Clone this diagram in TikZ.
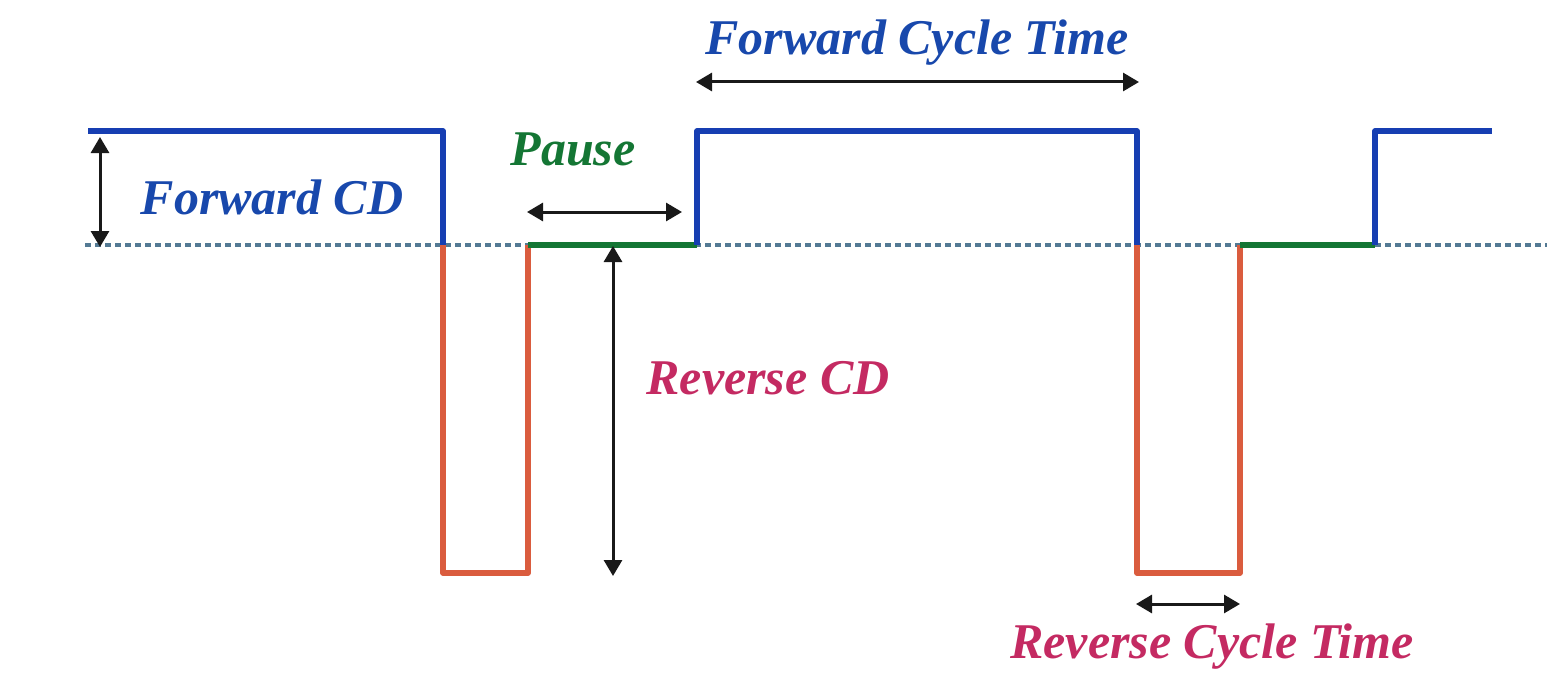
\documentclass[tikz,border=0pt]{standalone}
\usepackage{fontspec}
\setmainfont{Liberation Serif}
\usetikzlibrary{arrows.meta}
\definecolor{fwdblue}{RGB}{22,62,178}
\definecolor{revred}{RGB}{218,92,62}
\definecolor{pausegreen}{RGB}{20,118,52}
\definecolor{txtblue}{RGB}{24,72,172}
\definecolor{txtred}{RGB}{196,42,98}
\definecolor{dotgray}{RGB}{84,122,148}
\begin{document}
\begin{tikzpicture}[x=1pt,y=-1pt,
  wave/.style={line width=5.5pt,line join=round},
  dim/.style={line width=3pt,black!90,{Triangle[length=16pt,width=18pt]}-{Triangle[length=16pt,width=18pt]}},
  lbl/.style={font=\fontsize{50}{54}\selectfont\bfseries\itshape,inner sep=0pt}]
\useasboundingbox (0,0) rectangle (1547,682);
% baseline
\coordinate (b0) at (85,245);
\coordinate (b1) at (1547,245);
\draw[dotgray,line width=3.5pt,dash pattern=on 6pt off 4pt] (b0) -- (b1);
% waveform corners
\coordinate (p0) at (88,131);
\coordinate (p1) at (443,131);
\coordinate (p2) at (443,245);
\coordinate (p3) at (443,573);
\coordinate (p4) at (528,573);
\coordinate (p5) at (528,245);
\coordinate (p6) at (697,245);
\coordinate (p7) at (697,131);
\coordinate (p8) at (1137,131);
\coordinate (p9) at (1137,245);
\coordinate (p10) at (1137,573);
\coordinate (p11) at (1240,573);
\coordinate (p12) at (1240,245);
\coordinate (p13) at (1375,245);
\coordinate (p14) at (1375,131);
\coordinate (p15) at (1492,131);
\draw[wave,fwdblue] (p0) -- (p1) -- (p2);
\draw[wave,revred] (p2) -- (p3) -- (p4) -- (p5);
\draw[wave,pausegreen] (p5) -- (p6);
\draw[wave,fwdblue] (p6) -- (p7) -- (p8) -- (p9);
\draw[wave,revred] (p9) -- (p10) -- (p11) -- (p12);
\draw[wave,pausegreen] (p12) -- (p13);
\draw[wave,fwdblue] (p13) -- (p14) -- (p15);
% dimension arrows
\coordinate (fa) at (100,137);
\coordinate (fb) at (100,247);
\draw[dim] (fa) -- (fb);
\coordinate (pa) at (527,212);
\coordinate (pb) at (682,212);
\draw[dim] (pa) -- (pb);
\coordinate (ca) at (696,82);
\coordinate (cb) at (1139,82);
\draw[dim] (ca) -- (cb);
\coordinate (ra) at (613,246);
\coordinate (rb) at (613,576);
\draw[dim] (ra) -- (rb);
\coordinate (qa) at (1136,604);
\coordinate (qb) at (1240,604);
\draw[dim] (qa) -- (qb);
% labels
\node[lbl,txtblue] (lfcd) at (272,197) {Forward CD};
\node[lbl,pausegreen] (lpause) at (573,149) {Pause};
\node[lbl,txtblue] (lfct) at (917,43) {Forward Cycle Time};
\node[lbl,txtred] (lrcd) at (768,378) {Reverse CD};
\node[lbl,txtred] (lrct) at (1212,647) {Reverse Cycle Time};
\end{tikzpicture}
\end{document}
